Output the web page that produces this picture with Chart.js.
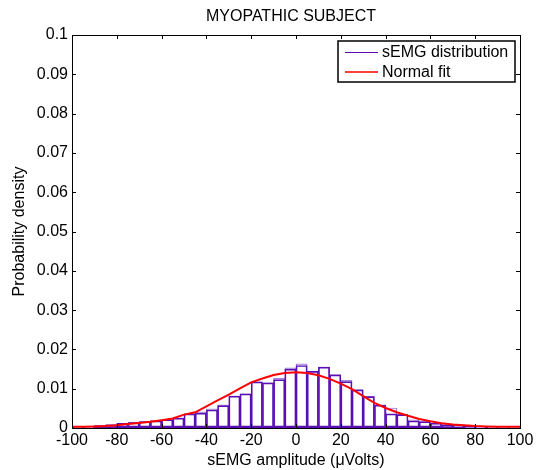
<!DOCTYPE html>
<html>
<head>
<meta charset="utf-8">
<script src="https://cdn.jsdelivr.net/npm/chart.js@4/dist/chart.umd.min.js"></script>
<style>
html,body{margin:0;padding:0;background:#fff;}
#wrap{width:545px;height:470px;position:relative;}
</style>
</head>
<body>
<div id="wrap"><canvas id="c" width="545" height="470"></canvas></div>
<script>
// ---- data ----
const binCenters = [-97.5,-92.5,-87.5,-82.5,-77.5,-72.5,-67.5,-62.5,-57.5,-52.5,
  -47.5,-42.5,-37.5,-32.5,-27.5,-22.5,-17.5,-12.5,-7.5,-2.5,
  2.5,7.5,12.5,17.5,22.5,27.5,32.5,37.5,42.5,47.5,
  52.5,57.5,62.5,67.5,72.5,77.5,82.5,87.5,92.5,97.5];
const histValues = [0.0002,0.0003,0.0006,0.0008,0.0012,0.0014,0.0016,0.0018,0.0021,0.0025,
  0.0036,0.0038,0.0046,0.0057,0.0081,0.0087,0.0117,0.0115,0.0123,0.0150,
  0.0159,0.0144,0.0155,0.0135,0.0118,0.0097,0.0080,0.0058,0.0036,0.0034,
  0.0018,0.0016,0.0012,0.0008,0.0006,0.0004,0.0003,0.0002,0.0001,0.0001];
const histValuesLight = [0.0002,0.0003,0.0006,0.0009,0.0012,0.0015,0.0017,0.0019,0.0021,0.0025,
  0.0036,0.0041,0.0049,0.0059,0.0081,0.0087,0.0118,0.0115,0.0127,0.0153,
  0.0163,0.0145,0.0155,0.0136,0.0121,0.0098,0.0081,0.0059,0.0051,0.0035,
  0.0021,0.0017,0.0012,0.0009,0.0007,0.0004,0.0003,0.0002,0.0001,0.0001];
const fitX = [-100,-95,-90,-85,-80,-75,-70,-65,-60,-55,-50,-45,-40,-35,-30,-25,-20,-15,-10,-5,
  0,5,10,15,20,25,30,35,40,45,50,55,60,65,70,75,80,85,90,95,100];
const fitValues = [0.0003,0.0003,0.0004,0.0005,0.0007,0.0010,0.0013,0.0016,0.0020,0.0024,
  0.0034,0.0040,0.0055,0.0070,0.0085,0.0101,0.0116,0.0126,0.0135,0.0140,
  0.0142,0.0140,0.0134,0.0125,0.0113,0.0099,0.0081,0.0064,0.0051,0.0040,
  0.0031,0.0023,0.0017,0.0012,0.0009,0.0007,0.0005,0.0004,0.0003,0.0003,0.0003];
const xTicks = [-100,-80,-60,-40,-20,0,20,40,60,80,100];
const yTicks = [0,0.01,0.02,0.03,0.04,0.05,0.06,0.07,0.08,0.09,0.1];
const legendLabels = ['sEMG distribution','Normal fit'];
const titleText = 'MYOPATHIC SUBJECT';
const xLabel = 'sEMG amplitude (\u03BCVolts)';
const yLabel = 'Probability density';

const PURPLE = '#5a0fb4';
const LIGHT = 'rgba(165,130,220,1)';
const RED = '#ff0000';
const FONT = "'Liberation Sans', Arial, sans-serif";
const FS = 16;

const boxPlugin = {
  id: 'boxPlugin',
  afterDraw(chart) {
    const ctx = chart.ctx, a = chart.chartArea;
    const xs = chart.scales.x, ys = chart.scales.y;
    const L = 4;
    ctx.save();
    ctx.strokeStyle = '#000';
    ctx.lineWidth = 1;
    ctx.beginPath();
    xTicks.forEach(v => {
      const p = Math.round(xs.getPixelForValue(v)) + 0.5;
      ctx.moveTo(p, a.bottom); ctx.lineTo(p, a.bottom - L);
      ctx.moveTo(p, a.top); ctx.lineTo(p, a.top + L);
    });
    yTicks.forEach(v => {
      const p = Math.round(ys.getPixelForValue(v)) + 0.5;
      ctx.moveTo(a.left, p); ctx.lineTo(a.left + L, p);
      ctx.moveTo(a.right, p); ctx.lineTo(a.right - L, p);
    });
    ctx.stroke();
    ctx.strokeRect(Math.round(a.left) + 0.5, Math.round(a.top) + 0.5,
      Math.round(a.right - a.left), Math.round(a.bottom - a.top));
    // title
    ctx.font = FS + 'px ' + FONT;
    ctx.fillStyle = '#000';
    ctx.textAlign = 'center';
    ctx.textBaseline = 'middle';
    ctx.fillText(titleText, (a.left + a.right) / 2 - 5, 17);
    // legend
    ctx.textAlign = 'left';
    const lx = 338, ly = 41, lw = 177, lh = 41;
    ctx.fillStyle = '#fff';
    ctx.fillRect(lx, ly, lw, lh);
    ctx.lineWidth = 1.5;
    ctx.strokeRect(lx, ly, lw, lh);
    const cols = [PURPLE, RED];
    legendLabels.forEach((t, i) => {
      const yy = ly + 11.5 + i * 19.5;
      ctx.strokeStyle = cols[i];
      ctx.lineWidth = i === 0 ? 1.2 : 1.5;
      ctx.beginPath(); ctx.moveTo(345, yy); ctx.lineTo(378, yy); ctx.stroke();
      ctx.fillStyle = '#000';
      ctx.fillText(t, 382, yy + 0.5);
    });
    ctx.restore();
  }
};

new Chart(document.getElementById('c'), {
  type: 'bar',
  data: {
    datasets: [
      {
        type: 'line',
        data: fitX.map((x, i) => ({x: x, y: fitValues[i]})),
        borderColor: RED, borderWidth: 2, pointRadius: 0, tension: 0,
        fill: false, order: 0
      },
      {
        data: binCenters.map((x, i) => ({x: x, y: histValues[i]})),
        backgroundColor: 'rgba(255,255,255,0)', borderColor: PURPLE,
        borderWidth: {top: 1, left: 1, right: 1, bottom: 2}, borderSkipped: false, grouped: false,
        barPercentage: 1, categoryPercentage: 1, order: 1
      },
      {
        data: binCenters.map((x, i) => ({x: x, y: histValuesLight[i]})),
        backgroundColor: '#ffffff', borderColor: LIGHT,
        borderWidth: 1.2, borderSkipped: false, grouped: false,
        barPercentage: 1, categoryPercentage: 1, order: 2
      }
    ]
  },
  options: {
    responsive: false, animation: false, devicePixelRatio: 1,
    layout: {padding: {top: 35, right: 25, left: 0, bottom: 0}},
    plugins: {
      legend: {display: false}, tooltip: {enabled: false},
      title: {display: false}
    },
    scales: {
      x: {
        type: 'linear', min: -100, max: 100, offset: false,
        afterBuildTicks(s) { s.ticks = xTicks.map(v => ({value: v})); },
        afterFit(s) { s.height = 42; },
        grid: {display: false, drawTicks: false},
        border: {display: false},
        ticks: {color: '#000', font: {family: FONT, size: FS}, padding: 3, maxRotation: 0,
          callback: v => String(v)},
        title: {display: true, text: xLabel, color: '#000',
          font: {family: FONT, size: FS}, padding: {top: 0, bottom: 0}}
      },
      y: {
        min: 0, max: 0.1,
        afterBuildTicks(s) { s.ticks = yTicks.map(v => ({value: v})); },
        afterFit(s) { s.width = 72; },
        grid: {display: false, drawTicks: false},
        border: {display: false},
        ticks: {color: '#000', font: {family: FONT, size: FS}, padding: 4,
          callback: v => String(Math.round(v * 100) / 100)},
        title: {display: true, text: yLabel, color: '#000',
          font: {family: FONT, size: FS}, padding: {top: 10, bottom: 0}}
      }
    }
  },
  plugins: [boxPlugin]
});
</script>
</body>
</html>
